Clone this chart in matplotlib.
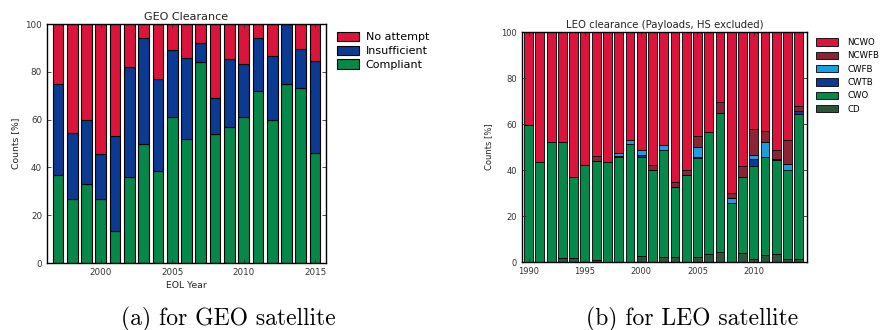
import matplotlib
matplotlib.use("Agg")
import matplotlib.pyplot as plt
import numpy as np

# GEO clearance, share of satellites per EOL year [%]
geo_years = np.arange(1997, 2016)
geo_compliant = [37, 27, 33, 27, 13.4, 36, 50, 38.4, 61, 52, 84, 54, 57, 61, 72, 60, 75, 73.4, 46]
geo_insufficient = [38, 27.5, 27, 18.5, 39.6, 46, 44, 38.6, 28, 33.6, 8.2, 15, 28.2, 22.3, 22.1, 26.6, 25, 16, 38.5]
geo_no_attempt = [25, 45.5, 40, 54.5, 47, 18, 6, 23, 11, 14.4, 7.8, 31, 14.8, 16.7, 5.9, 13.4, 0, 10.6, 15.5]

# LEO clearance (payloads, HS excluded) [%]
leo_years = np.arange(1990, 2015)
leo_cd = [0, 0, 0, 1.7, 1.7, 0, 0.7, 0, 0, 0, 2.5, 0, 2, 2, 0, 2, 3.6, 4.3, 0, 3.9, 1.4, 2.9, 3.6, 1.4, 1.4]
leo_cwo = [59.4, 43.3, 52, 50.3, 35.1, 42, 43.3, 43.6, 45.7, 51.4, 43.3, 40, 46.8, 30.5, 38, 43.2,
           52.9, 60.5, 25.7, 33.1, 40.5, 42.6, 40.7, 38.5, 62.9]
leo_cwtb = [0, 0, 0, 0, 0, 0, 0, 0, 0.4, 0, 0.7, 0, 0, 0, 0, 0.4, 0, 0, 0, 0, 3, 0, 0.5, 0, 1.2]
leo_cwfb = [0, 0, 0, 0, 0, 0, 0, 0, 1.3, 1.6, 2, 0, 2.2, 0, 0, 4.4, 0, 0, 2.1, 0, 1.6, 6.5, 0, 2.7, 0]
leo_ncwfb = [0, 0, 0, 0, 0, 0, 2.2, 0, 0, 0, 0, 2, 0, 2.3, 2, 4.6, 0, 4.8, 2.3, 4.9, 11.5, 5.1, 3.8, 10.3, 2.5]
leo_ncwo = [40.6, 56.7, 48, 48, 63.2, 58, 53.8, 56.4, 52.6, 47, 51.5, 58, 49, 65.2, 60, 45.4,
            43.5, 30.4, 69.9, 58.1, 42, 42.9, 51.4, 47.1, 32]

RED = "#dc143c"
BLUE = "#0b3a93"
GREEN = "#05884a"

fig = plt.figure(figsize=(8.86, 3.3), dpi=100)

def style_axes(ax, fs):
    ax.tick_params(direction="in", top=True, right=True, labelsize=fs,
                   length=3, width=0.6, colors="#333333")
    for s in ax.spines.values():
        s.set_linewidth(1.0)
    ax.set_ylim(0, 100)
    ax.set_yticks([0, 20, 40, 60, 80, 100])

# (a) GEO
ax1 = fig.add_axes([0.053, 0.203, 0.315, 0.724])
bottom = np.zeros(len(geo_years))
for vals, col, lab in [(geo_compliant, GREEN, "Compliant"),
                       (geo_insufficient, BLUE, "Insufficient"),
                       (geo_no_attempt, RED, "No attempt")]:
    ax1.bar(geo_years, vals, width=0.75, bottom=bottom, color=col,
            edgecolor="black", linewidth=0.8, label=lab)
    bottom += np.array(vals)
ax1.set_xlim(1996.23, 2015.77)
ax1.set_xticks([2000, 2005, 2010, 2015])
style_axes(ax1, 6.3)
ax1.set_title("GEO Clearance", fontsize=8, pad=3, color="#222222")
ax1.set_xlabel("EOL Year", fontsize=6.7, color="#222222", labelpad=3)
ax1.set_ylabel("Counts [%]", fontsize=6.7, color="#222222", labelpad=4)
h, l = ax1.get_legend_handles_labels()
ax1.legend(h[::-1], l[::-1], loc="upper left", bbox_to_anchor=(1.01, 1.0),
           frameon=False, fontsize=8, handlelength=2.0, handleheight=0.9,
           labelspacing=0.3, handletextpad=0.6, borderaxespad=0.3)

# (b) LEO
ax2 = fig.add_axes([0.589, 0.206, 0.322, 0.697])
bottom = np.zeros(len(leo_years))
for vals, col, lab in [(leo_cd, "#2c5539", "CD"),
                       (leo_cwo, GREEN, "CWO"),
                       (leo_cwtb, BLUE, "CWTB"),
                       (leo_cwfb, "#1d9de0", "CWFB"),
                       (leo_ncwfb, "#8c2435", "NCWFB"),
                       (leo_ncwo, RED, "NCWO")]:
    ax2.bar(leo_years, vals, width=0.78, bottom=bottom, color=col,
            edgecolor="black", linewidth=0.6, label=lab)
    bottom += np.array(vals)
ax2.set_xlim(1989.4, 2014.75)
ax2.set_xticks([1990, 1995, 2000, 2005, 2010])
style_axes(ax2, 6)
ax2.set_title("LEO clearance (Payloads, HS excluded)", fontsize=7.3, pad=3, color="#222222")
ax2.set_ylabel("Counts [%]", fontsize=6, color="#222222", labelpad=6)
h, l = ax2.get_legend_handles_labels()
ax2.legend(h[::-1], l[::-1], loc="upper left", bbox_to_anchor=(1.01, 1.0),
           frameon=False, fontsize=6.2, handlelength=2.6, handleheight=0.9,
           labelspacing=0.5, handletextpad=1.0, borderaxespad=0.3)

fig.text(0.258, 0.033, "(a) for GEO satellite", fontname="cmr10", fontsize=17,
         ha="center", va="center")
fig.text(0.781, 0.033, "(b) for LEO satellite", fontname="cmr10", fontsize=17,
         ha="center", va="center")

fig.savefig("out.png", dpi=100)
